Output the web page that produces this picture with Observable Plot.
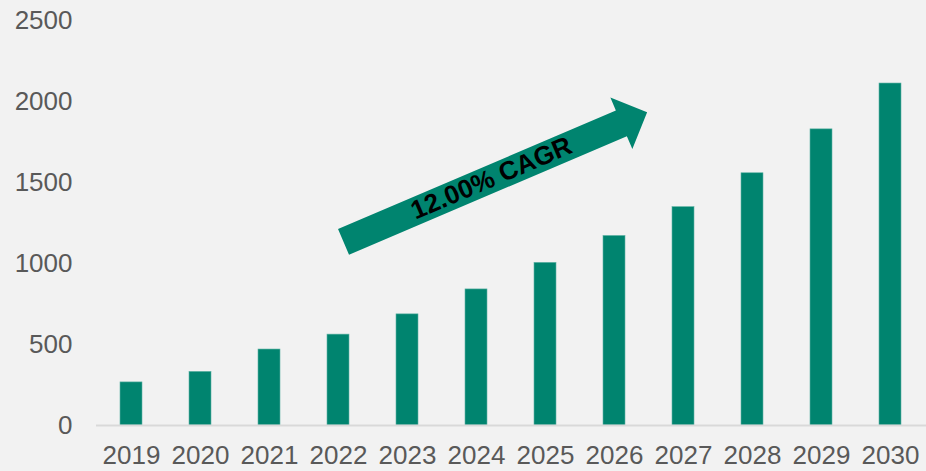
<!DOCTYPE html>
<html>
<head>
<meta charset="utf-8">
<script src="https://cdn.jsdelivr.net/npm/d3@7"></script>
<script src="https://cdn.jsdelivr.net/npm/@observablehq/plot@0.6"></script>
<style>
  html, body { margin: 0; padding: 0; background: #f2f2f2; }
  #chart svg { display: block; }
</style>
</head>
<body>
<div id="chart"></div>
<script>
const years = ["2019","2020","2021","2022","2023","2024","2025","2026","2027","2028","2029","2030"];
const values = [266, 331, 469, 561, 686, 840, 1004, 1170, 1348, 1557, 1828, 2111];
const yTicks = [0, 500, 1000, 1500, 2000, 2500];
const cagrLabel = "12.00% CAGR";
// arrow anchors in data terms: [year, fraction of a step past band centre, value]
const arrowTail = ["2022", 0.08, 1130];
const arrowTip = ["2026", 0.48, 1930];

const data = years.map((y, i) => ({year: y, value: values[i]}));
const green = "#00846f";

function cagrArrow(index, scales, vals, dims) {
  const xs = scales.x, ys = scales.y;
  const bw = xs.bandwidth ? xs.bandwidth() : 0;
  const step = xs.step ? xs.step() : 69;
  const x0 = xs(arrowTail[0]) + bw / 2 + arrowTail[1] * step;
  const y0 = ys(arrowTail[2]);
  const x1 = xs(arrowTip[0]) + bw / 2 + arrowTip[1] * step;
  const y1 = ys(arrowTip[2]);
  const dx = x1 - x0, dy = y1 - y0;
  const L = Math.hypot(dx, dy);
  const ang = Math.atan2(dy, dx) * 180 / Math.PI;
  const hw = 14, headLen = 28, headHw = 28;
  const g = d3.create("svg:g").attr("transform", `translate(${x0},${y0}) rotate(${ang})`);
  g.append("path")
    .attr("d", `M0,${-hw}L${L - headLen},${-hw}L${L - headLen},${-headHw}L${L},0L${L - headLen},${headHw}L${L - headLen},${hw}L0,${hw}Z`)
    .attr("fill", green);
  g.append("text")
    .attr("x", 161)
    .attr("y", 1)
    .attr("text-anchor", "middle")
    .attr("dominant-baseline", "middle")
    .attr("font-family", "Liberation Sans, Arial, sans-serif")
    .attr("font-weight", "bold")
    .attr("font-size", 26)
    .attr("fill", "#000")
    .text(cagrLabel);
  return g.node();
}

const chart = Plot.plot({
  width: 926,
  height: 471,
  marginLeft: 96,
  marginRight: 0,
  marginTop: 20,
  marginBottom: 46,
  style: {background: "#f2f2f2", fontFamily: "Liberation Sans, Arial, sans-serif", fontSize: "26px", color: "#595959", overflow: "visible"},
  x: {domain: years, paddingInner: 0.68, paddingOuter: 0.34, label: null, tickSize: 0, tickPadding: 20},
  y: {domain: [0, 2500], ticks: yTicks, tickFormat: d3.format("d"), label: null, tickSize: 0, tickPadding: 24},
  marks: [
    Plot.barY(data, {x: "year", y: "value", fill: green, stroke: "#5fb3a5", strokeWidth: 0.6}),
    Plot.ruleY([0], {stroke: "#d9d9d9", strokeWidth: 2}),
    cagrArrow
  ]
});
document.getElementById("chart").appendChild(chart);
</script>
</body>
</html>
